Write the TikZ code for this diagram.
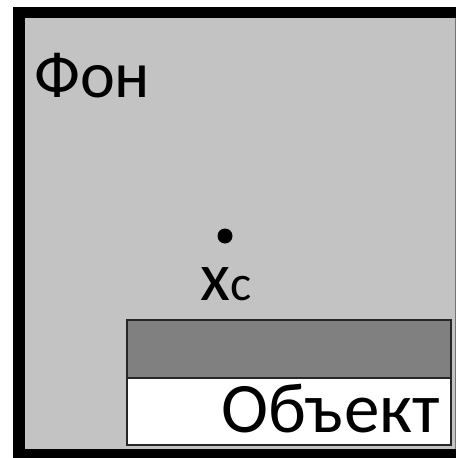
\documentclass[tikz,border=0pt]{standalone}
\usepackage{fontspec}
\setmainfont{Carlito}
\definecolor{bggray}{RGB}{195,195,195}
\definecolor{bandgray}{RGB}{128,128,128}
\begin{document}
\begin{tikzpicture}[x=1pt,y=-1pt,
  lbl/.style={inner sep=0pt,text=black},
  objpart/.style={draw=black!85,line width=1.5pt}]
\useasboundingbox (0,0) rectangle (456,458);
% frame and background
\fill[black] (13,7) rectangle (456,458);
\fill[bggray] (25,18) rectangle (455,449);
\draw[black!55,line width=1pt] (455.5,18) -- (455.5,449);
% object: dark band over white base
\draw[objpart,fill=bandgray] (127,320) rectangle (451,378);
\draw[objpart,fill=white] (127,378) rectangle (451,445);
% labels
\node[lbl,anchor=base west,font=\fontsize{66}{66}\selectfont] (bg) at (34,97) {Фон};
\node[lbl,anchor=base east,font=\fontsize{71}{71}\selectfont] (obj) at (440,432) {Объект};
\fill (225,236) circle (7.5);
\node[lbl,anchor=base west] (xc) at (200,300) {\fontsize{69}{69}\selectfont x\fontsize{50}{50}\selectfont c};
\end{tikzpicture}
\end{document}
